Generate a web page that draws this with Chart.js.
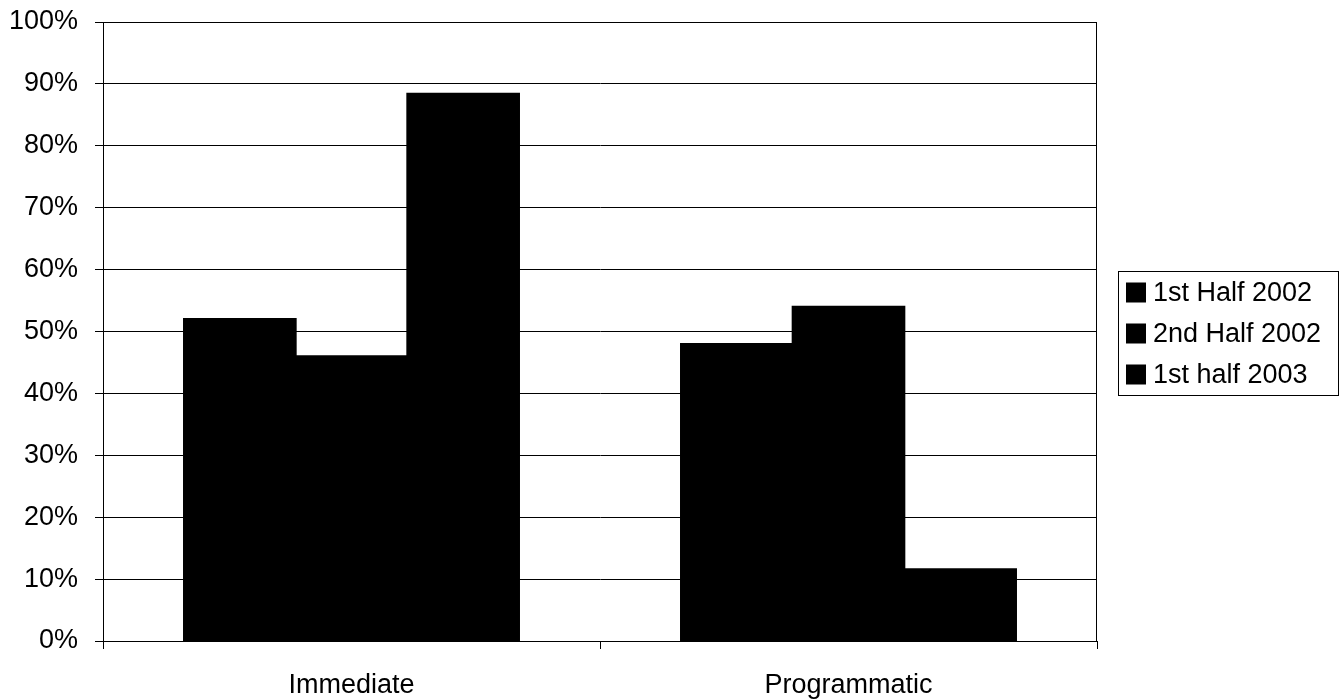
<!DOCTYPE html>
<html>
<head>
<meta charset="utf-8">
<script src="https://cdn.jsdelivr.net/npm/chart.js"></script>
<style>
  html, body { margin: 0; padding: 0; background: #fff; }
  #wrap { width: 1343px; height: 699px; }
</style>
</head>
<body>
<div id="wrap"><canvas id="chart" width="1343" height="699"></canvas></div>
<script>
const categories = ['Immediate', 'Programmatic'];
const seriesNames = ['1st Half 2002', '2nd Half 2002', '1st half 2003'];
const firstHalf2002 = [52, 48];
const secondHalf2002 = [46, 54];
const firstHalf2003 = [88.4, 11.6];
const seriesColors = ['#000000', '#000000', '#000000'];

const FONT = '"Liberation Sans", Arial, sans-serif';

// plot area frame (right + top edge)
const framePlugin = {
  id: 'frame',
  afterDatasetsDraw(chart) {
    const { ctx, chartArea } = chart;
    ctx.save();
    ctx.strokeStyle = '#000';
    ctx.lineWidth = 1;
    ctx.strokeRect(chartArea.left + 0.5, chartArea.top + 0.5,
      chartArea.right - chartArea.left - 1, chartArea.bottom - chartArea.top);
    ctx.restore();
  }
};

// Excel style boxed legend on the right
const boxLegend = {
  id: 'boxLegend',
  afterDraw(chart) {
    const { ctx } = chart;
    const sets = chart.data.datasets;
    const left = 1118, right = 1338, top = 271, rowH = 41, sq = 20;
    ctx.save();
    ctx.strokeStyle = '#000';
    ctx.lineWidth = 1;
    ctx.strokeRect(left + 0.5, top + 0.5, right - left, rowH * sets.length + 1);
    ctx.font = '27px ' + FONT;
    ctx.textBaseline = 'middle';
    ctx.textAlign = 'left';
    sets.forEach((ds, i) => {
      const cy = top + rowH / 2 + 1 + i * rowH;
      ctx.fillStyle = ds.backgroundColor;
      ctx.fillRect(left + 8, cy - sq / 2, sq, sq);
      ctx.fillStyle = '#000';
      ctx.fillText(ds.label, left + 35, cy + 1);
    });
    ctx.restore();
  }
};

new Chart(document.getElementById('chart'), {
  type: 'bar',
  data: {
    labels: categories,
    datasets: [
      { label: seriesNames[0], data: firstHalf2002, backgroundColor: seriesColors[0] },
      { label: seriesNames[1], data: secondHalf2002, backgroundColor: seriesColors[1] },
      { label: seriesNames[2], data: firstHalf2003, backgroundColor: seriesColors[2] }
    ]
  },
  options: {
    responsive: false,
    animation: false,
    events: [],
    layout: { padding: { top: 22, right: 246, left: 0, bottom: 0 } },
    datasets: {
      bar: { barPercentage: 1, categoryPercentage: 0.674, borderWidth: 0, inflateAmount: 1 }
    },
    scales: {
      x: {
        offset: true,
        grid: { offset: true, drawOnChartArea: false, color: '#000', tickLength: 8 },
        border: { color: '#000', width: 1 },
        ticks: { color: '#000', font: { family: FONT, size: 27 }, padding: 20, maxRotation: 0 },
        afterFit(scale) { scale.height = 58; scale.paddingLeft = 0; scale.paddingRight = 0; }
      },
      y: {
        min: 0,
        max: 100,
        ticks: {
          stepSize: 10,
          color: '#000',
          padding: 17,
          font: { family: FONT, size: 27 },
          callback: v => v + '%'
        },
        grid: { color: '#000', lineWidth: 1, tickLength: 8 },
        border: { color: '#000', width: 1 },
        afterFit(scale) { scale.width = 103; scale.paddingTop = 0; scale.paddingBottom = 0; }
      }
    },
    plugins: {
      legend: { display: false },
      tooltip: { enabled: false }
    }
  },
  plugins: [framePlugin, boxLegend]
});
</script>
</body>
</html>
